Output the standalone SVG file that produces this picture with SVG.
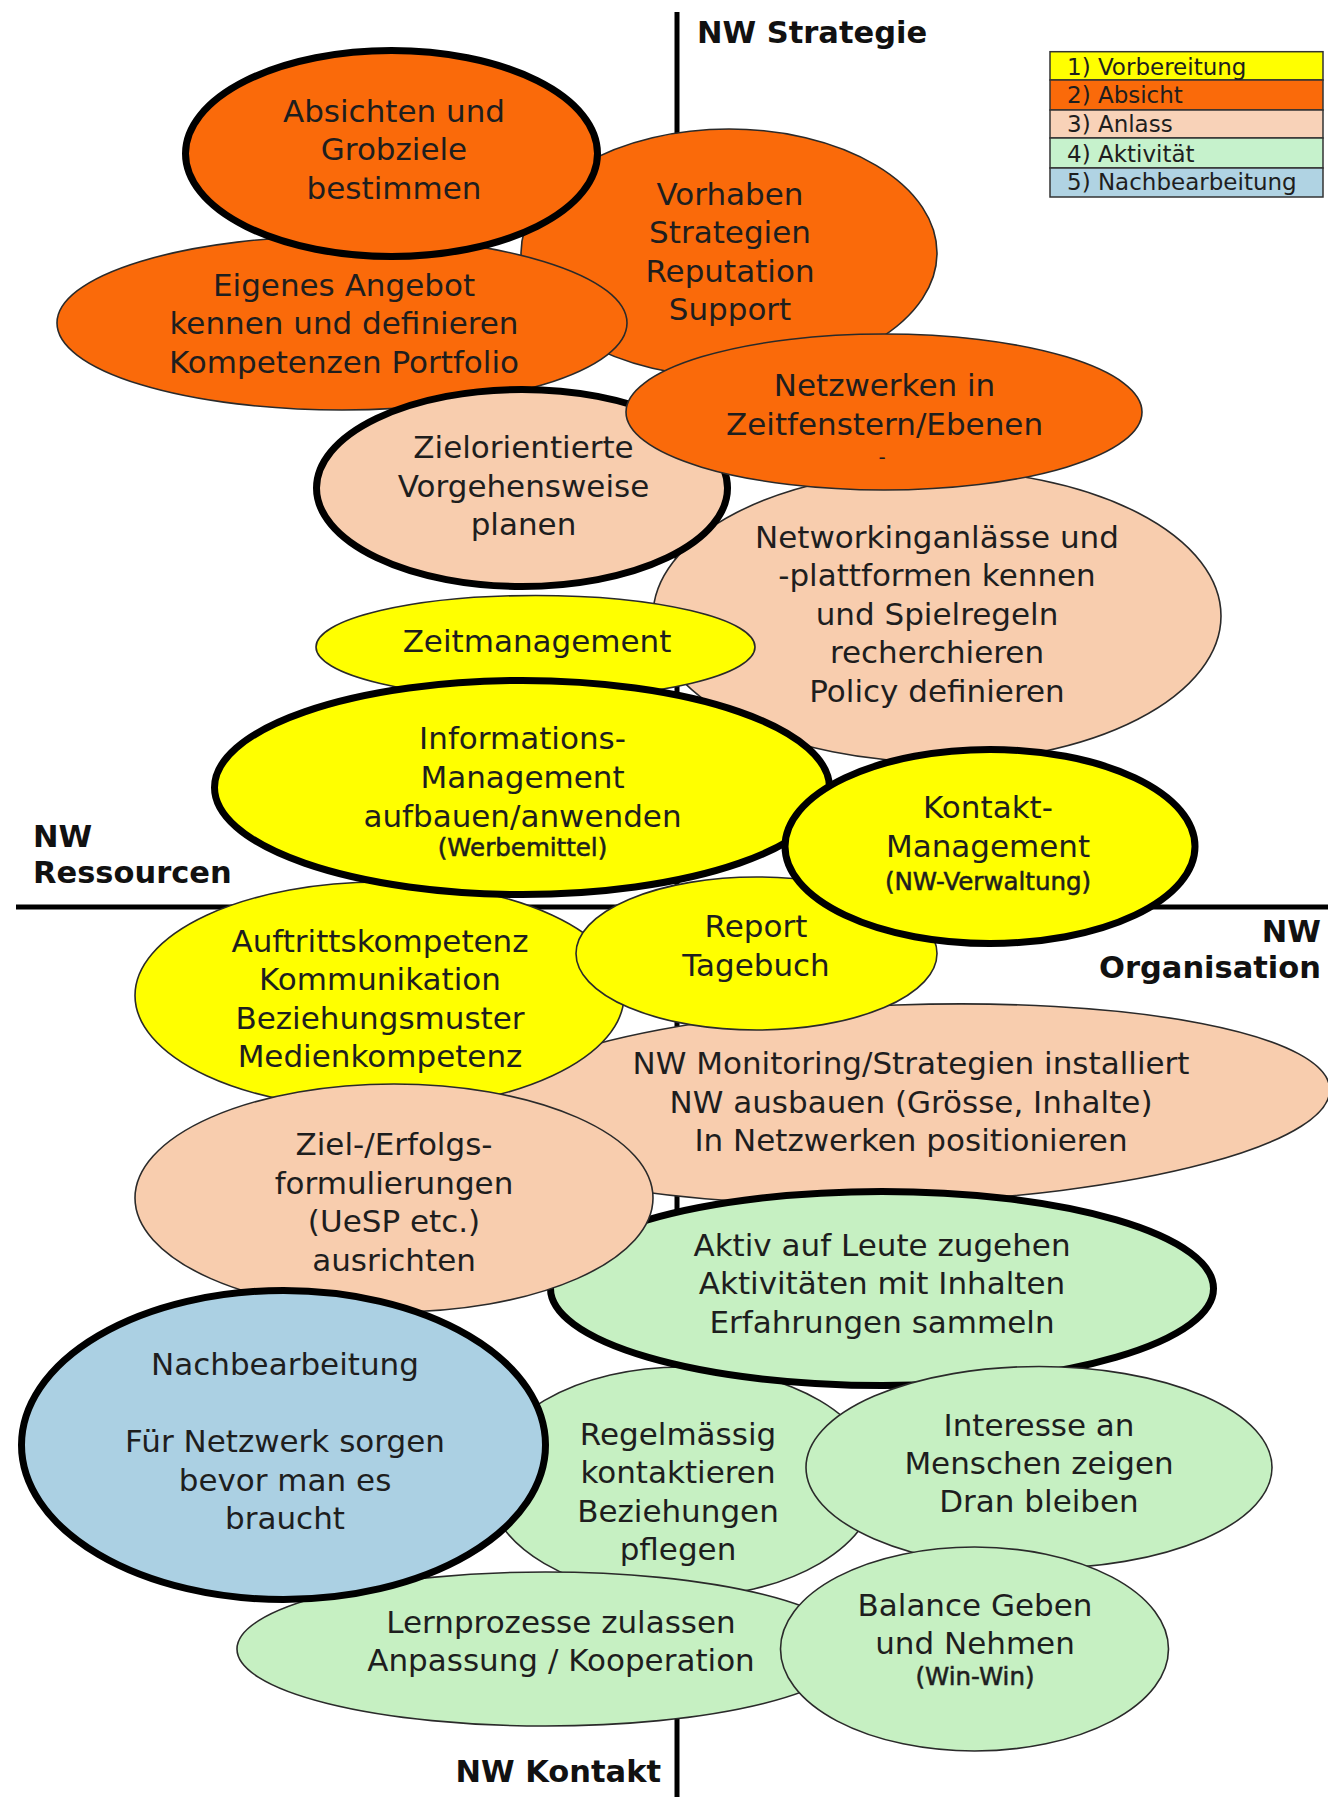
<svg xmlns="http://www.w3.org/2000/svg" width="1328" height="1797" viewBox="0 0 1328 1797">
<style>
text { font-family: "DejaVu Sans", Verdana, sans-serif; fill: #1e1e1e; }
.t { font-size: 31px; text-anchor: middle; }
.s { font-size: 24.5px; text-anchor: middle; stroke: #1e1e1e; stroke-width: 0.55; }
.ax { font-size: 30.5px; font-weight: bold; fill: #111; }
.lg { font-size: 23px; }
.thin { stroke: #2a2a2a; stroke-width: 1.6; }
.thick { stroke: #000; stroke-width: 7; }
.o { fill: #FA6A0A; }
.y { fill: #FFFF00; }
.p { fill: #F8CDAE; }
.g { fill: #C6F0C2; }
.b { fill: #ABD0E3; }
.axis { stroke: #000; stroke-width: 5; fill: none; }
.lgbox { stroke: #333; stroke-width: 1.5; }
</style>
<rect width="1328" height="1797" fill="#ffffff"/>

<g id="axes">
  <line class="axis" x1="677" y1="12" x2="677" y2="1797"/>
  <line class="axis" x1="16" y1="907" x2="1328" y2="907"/>
  <text class="ax" x="697" y="43">NW Strategie</text>
  <text class="ax" x="33" y="847">NW</text>
  <text class="ax" x="33" y="883">Ressourcen</text>
  <text class="ax" x="1321" y="942" text-anchor="end">NW</text>
  <text class="ax" x="1321" y="978" text-anchor="end">Organisation</text>
  <text class="ax" x="661" y="1782" text-anchor="end">NW Kontakt</text>
</g>

<g id="connectors"></g>

<g id="n-vorhaben">
  <ellipse class="o thin" cx="729" cy="253" rx="208" ry="124"/>
  <text class="t"><tspan x="730" y="205">Vorhaben</tspan><tspan x="730" y="243.3">Strategien</tspan><tspan x="730" y="281.6">Reputation</tspan><tspan x="730" y="320">Support</tspan></text>
</g>

<g id="n-eigenes">
  <ellipse class="o thin" cx="342" cy="323" rx="285" ry="87"/>
  <text class="t"><tspan x="344" y="296">Eigenes Angebot</tspan><tspan x="344" y="334.3">kennen und definieren</tspan><tspan x="344" y="372.7">Kompetenzen Portfolio</tspan></text>
</g>

<g id="n-absichten">
  <ellipse class="o thick" cx="391.5" cy="153.5" rx="206" ry="103"/>
  <text class="t"><tspan x="394" y="121.7">Absichten und</tspan><tspan x="394" y="160">Grobziele</tspan><tspan x="394" y="198.5">bestimmen</tspan></text>
</g>

<g id="n-networking">
  <ellipse class="p thin" cx="937" cy="616" rx="284" ry="146"/>
  <text class="t"><tspan x="937" y="548">Networkinganlässe und</tspan><tspan x="937" y="586.4">-plattformen kennen</tspan><tspan x="937" y="624.8">und Spielregeln</tspan><tspan x="937" y="663.2">recherchieren</tspan><tspan x="937" y="701.6">Policy definieren</tspan></text>
</g>

<g id="n-zielorientierte">
  <ellipse class="p thick" cx="522" cy="488" rx="205.5" ry="98.5"/>
  <text class="t"><tspan x="523.5" y="458">Zielorientierte</tspan><tspan x="523.5" y="496.5">Vorgehensweise</tspan><tspan x="523.5" y="535">planen</tspan></text>
</g>

<g id="n-netzwerken">
  <ellipse class="o thin" cx="884" cy="412" rx="258" ry="78"/>
  <text class="t"><tspan x="884.5" y="396.4">Netzwerken in</tspan><tspan x="884.5" y="434.5">Zeitfenstern/Ebenen</tspan></text>
  <text x="882" y="464" font-size="20" text-anchor="middle">-</text>
</g>

<g id="n-zeitmanagement">
  <ellipse class="y thin" cx="535.5" cy="647" rx="219.5" ry="51.5"/>
  <text class="t" x="537" y="652">Zeitmanagement</text>
</g>

<g id="n-monitoring">
  <ellipse class="p thin" cx="900" cy="1104" rx="430" ry="99" transform="rotate(-2 900 1104)"/>
  <text class="t"><tspan x="911" y="1074">NW Monitoring/Strategien installiert</tspan><tspan x="911" y="1112.5">NW ausbauen (Grösse, Inhalte)</tspan><tspan x="911" y="1151">In Netzwerken positionieren</tspan></text>
</g>

<g id="n-auftritt">
  <ellipse class="y thin" cx="379.5" cy="995.5" rx="244.5" ry="113.5"/>
  <text class="t"><tspan x="380" y="952">Auftrittskompetenz</tspan><tspan x="380" y="990.4">Kommunikation</tspan><tspan x="380" y="1028.8">Beziehungsmuster</tspan><tspan x="380" y="1067.2">Medienkompetenz</tspan></text>
</g>

<g id="n-report">
  <ellipse class="y thin" cx="756.5" cy="953.5" rx="180.5" ry="76.5"/>
  <text class="t"><tspan x="756" y="937">Report</tspan><tspan x="756" y="976">Tagebuch</tspan></text>
</g>

<g id="n-informations">
  <ellipse class="y thick" cx="522" cy="787.5" rx="307.5" ry="107"/>
  <text class="t"><tspan x="522.5" y="749">Informations-</tspan><tspan x="522.5" y="788">Management</tspan><tspan x="522.5" y="826.5">aufbauen/anwenden</tspan></text>
  <text class="s" x="522.5" y="856">(Werbemittel)</text>
</g>

<g id="n-kontakt">
  <ellipse class="y thick" cx="990" cy="846.5" rx="205" ry="97"/>
  <text class="t"><tspan x="988" y="818">Kontakt-</tspan><tspan x="988" y="856.5">Management</tspan></text>
  <text class="s" x="988" y="890">(NW-Verwaltung)</text>
</g>

<g id="n-regelmaessig">
  <ellipse class="g thin" cx="682" cy="1482" rx="195" ry="115"/>
  <text class="t"><tspan x="678" y="1445">Regelmässig</tspan><tspan x="678" y="1483.3">kontaktieren</tspan><tspan x="678" y="1521.6">Beziehungen</tspan><tspan x="678" y="1559.9">pflegen</tspan></text>
</g>

<g id="n-aktiv">
  <ellipse class="g thick" cx="882" cy="1288.5" rx="331.5" ry="97"/>
  <text class="t"><tspan x="882" y="1256">Aktiv auf Leute zugehen</tspan><tspan x="882" y="1294.3">Aktivitäten mit Inhalten</tspan><tspan x="882" y="1332.6">Erfahrungen sammeln</tspan></text>
</g>

<g id="n-zielerfolg">
  <ellipse class="p thin" cx="394" cy="1198" rx="259" ry="114"/>
  <text class="t"><tspan x="394" y="1155">Ziel-/Erfolgs-</tspan><tspan x="394" y="1193.5">formulierungen</tspan><tspan x="394" y="1232">(UeSP etc.)</tspan><tspan x="394" y="1270.5">ausrichten</tspan></text>
</g>

<g id="n-lernprozesse">
  <ellipse class="g thin" cx="545.5" cy="1649" rx="308.5" ry="77"/>
  <text class="t"><tspan x="561" y="1633">Lernprozesse zulassen</tspan><tspan x="561" y="1671">Anpassung / Kooperation</tspan></text>
</g>

<g id="n-nachbearbeitung">
  <ellipse class="b thick" cx="283.5" cy="1445" rx="262" ry="154.5"/>
  <text class="t"><tspan x="285" y="1375">Nachbearbeitung</tspan><tspan x="285" y="1452">Für Netzwerk sorgen</tspan><tspan x="285" y="1490.5">bevor man es</tspan><tspan x="285" y="1529">braucht</tspan></text>
</g>

<g id="n-interesse">
  <ellipse class="g thin" cx="1039" cy="1467.5" rx="233" ry="101"/>
  <text class="t"><tspan x="1039" y="1435.5">Interesse an</tspan><tspan x="1039" y="1473.8">Menschen zeigen</tspan><tspan x="1039" y="1512">Dran bleiben</tspan></text>
</g>

<g id="n-balance">
  <ellipse class="g thin" cx="974.5" cy="1649" rx="194" ry="102"/>
  <text class="t"><tspan x="975" y="1616">Balance Geben</tspan><tspan x="975" y="1654">und Nehmen</tspan></text>
  <text class="s" x="975" y="1685">(Win-Win)</text>
</g>

<g id="legend">
  <rect class="lgbox" x="1050" y="51.7" width="273" height="28.3" fill="#FFFF00"/>
  <rect class="lgbox" x="1050" y="80" width="273" height="30" fill="#FA6A0A"/>
  <rect class="lgbox" x="1050" y="110" width="273" height="28" fill="#F8D2B8"/>
  <rect class="lgbox" x="1050" y="138" width="273" height="30" fill="#C6F2CC"/>
  <rect class="lgbox" x="1050" y="168" width="273" height="29" fill="#B0D3E3"/>
  <text class="lg" x="1067" y="75" fill="#2a2a00">1) Vorbereitung</text>
  <text class="lg" x="1067" y="103" fill="#3a1200">2) Absicht</text>
  <text class="lg" x="1067" y="132" fill="#2e2420">3) Anlass</text>
  <text class="lg" x="1067" y="162" fill="#12301a">4) Aktivität</text>
  <text class="lg" x="1067" y="190" fill="#142a55">5) Nachbearbeitung</text>
</g>
</svg>
